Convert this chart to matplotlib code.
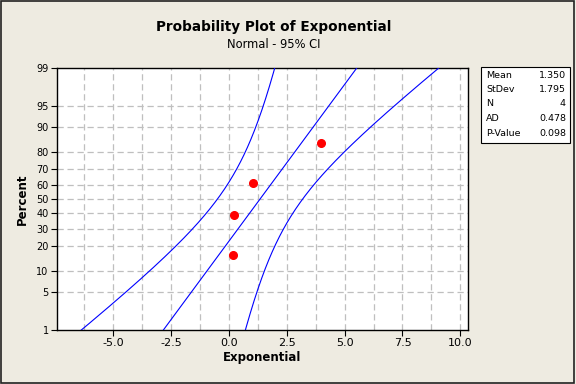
import numpy as np
import matplotlib
matplotlib.use("Agg")
import matplotlib.pyplot as plt
from matplotlib.patches import Rectangle
from statistics import NormalDist

# data values
values = [0.16, 0.22, 1.05, 3.97]
mean = 1.350
stdev = 1.795
n = 4
ad = 0.478
pvalue = 0.098

pct_ticks = [1, 5, 10, 20, 30, 40, 50, 60, 70, 80, 90, 95, 99]
x_ticks = [-5.0, -2.5, 0.0, 2.5, 5.0, 7.5, 10.0]

nd = NormalDist()
def z_of(p):
    return nd.inv_cdf(p / 100.0)

bg = "#EEEBE1"
fig = plt.figure(figsize=(5.76, 3.84), dpi=100, facecolor=bg)
ax = fig.add_axes([57 / 576, 1 - 330 / 384, (468 - 57) / 576, (330 - 68) / 384])
ax.set_facecolor("white")

# plotting positions (median ranks)
ranks = np.arange(1, n + 1)
pos = (ranks - 0.3) / (n + 0.4) * 100
zpts = [z_of(p) for p in pos]

# fitted line and 95% CI
zz = np.linspace(z_of(0.5), z_of(99.5), 300)
fit = mean + stdev * zz
se = stdev * np.sqrt(1.0 / n + zz**2 / (2.0 * n))
half = 2.05 * se
for line in (fit, fit - half, fit + half):
    ax.plot(line, zz, color="#0000FF", lw=0.8, zorder=3)
ax.plot(sorted(values), zpts, "o", color="#FF0000", ms=5.5, mec="#FF0000", zorder=4)

# grid
for g in np.arange(-6.25, 10.01, 1.25):
    ax.axvline(g, color="#BFBFBF", lw=0.9, ls=(0, (5, 3)), zorder=1)
for p in pct_ticks[1:-1]:
    ax.axhline(z_of(p), color="#BFBFBF", lw=0.9, ls=(0, (5, 3)), zorder=1)

ax.set_xlim(-7.42, 10.33)
ax.set_ylim(z_of(1), z_of(99))
ax.set_xticks(x_ticks)
ax.set_xticklabels(["%.1f" % t for t in x_ticks], fontsize=8)
ax.set_yticks([z_of(p) for p in pct_ticks])
ax.set_yticklabels([str(p) for p in pct_ticks], fontsize=7)
ax.tick_params(direction="out", length=4, width=0.8, pad=2)
for s in ax.spines.values():
    s.set_linewidth(1.0)

ax.set_xlabel("Exponential", fontsize=8.5, fontweight="bold", labelpad=2)
ax.set_ylabel("Percent", fontsize=8.5, fontweight="bold", labelpad=5)

fig.text(0.475, 1 - 27 / 384, "Probability Plot of Exponential", ha="center", va="center",
         fontsize=9.8, fontweight="bold")
fig.text(0.475, 1 - 44 / 384, "Normal - 95% CI", ha="center", va="center", fontsize=8.3)

# stats box
bx0, bx1, by0, by1 = 481, 570, 67, 143
fig.patches.append(Rectangle((bx0 / 576, 1 - by1 / 384), (bx1 - bx0) / 576, (by1 - by0) / 384,
                             transform=fig.transFigure, facecolor="white", edgecolor="black",
                             lw=0.8))
labels = ["Mean", "StDev", "N", "AD", "P-Value"]
vals = ["%.3f" % mean, "%.3f" % stdev, str(n), "%.3f" % ad, "%.3f" % pvalue]
for i, (lab, v) in enumerate(zip(labels, vals)):
    yy = 1 - (75 + i * 14.5) / 384
    fig.text(486 / 576, yy, lab, ha="left", va="center", fontsize=6.8)
    fig.text(566 / 576, yy, v, ha="right", va="center", fontsize=6.8)

# outer border
fig.patches.append(Rectangle((0.001, 0.003), 0.996, 0.995, transform=fig.transFigure,
                             fill=False, edgecolor="#222222", lw=1.2))

fig.savefig("out.png", dpi=100, facecolor=bg)
